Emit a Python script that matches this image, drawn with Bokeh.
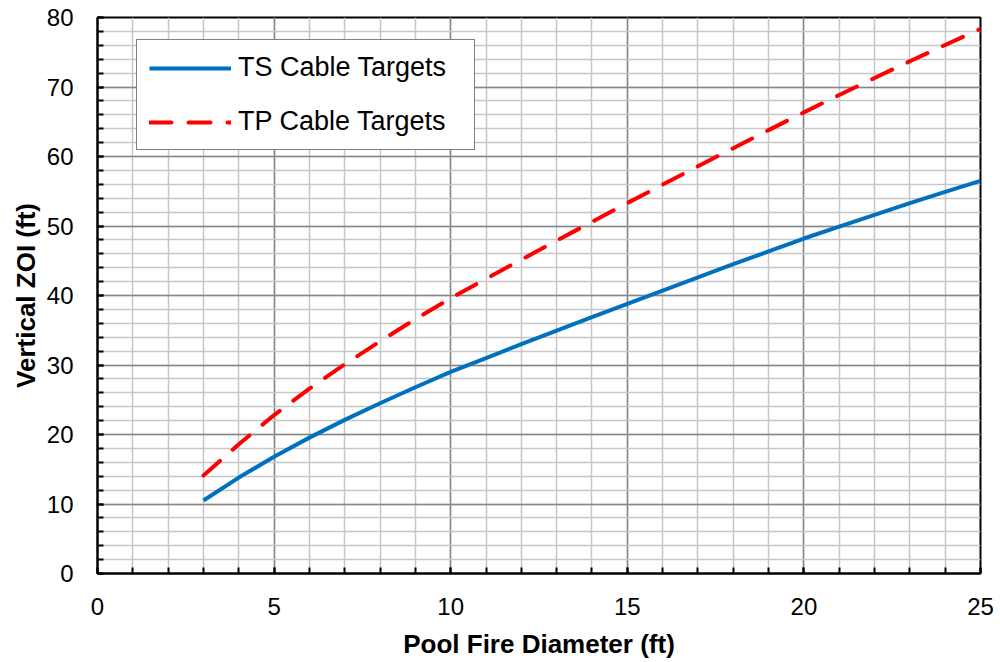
from bokeh.plotting import figure
from bokeh.models import FixedTicker, Range1d, Legend, LegendItem
from bokeh.embed import file_html
from bokeh.resources import INLINE

# Vertical zone of influence versus pool fire diameter
diameter_ft = [3, 4, 5, 6, 7, 8, 9, 10, 11, 12, 13, 14, 15, 16, 17, 18, 19, 20, 21, 22, 23, 24, 25]
ts_zoi_ft = [10.5, 13.8, 16.8, 19.55, 22.1, 24.5, 26.8, 29.0, 31.0, 33.0, 34.95, 36.9, 38.8,
             40.7, 42.6, 44.5, 46.35, 48.2, 49.9, 51.6, 53.3, 54.9, 56.5]
tp_zoi_ft = [14.1, 18.6, 22.8, 26.6, 30.1, 33.4, 36.6, 39.6, 42.4, 45.15, 47.9, 50.6, 53.3,
             55.95, 58.6, 61.2, 63.8, 66.35, 68.85, 71.3, 73.7, 76.05, 78.35]

x_major_ticks = [0, 5, 10, 15, 20, 25]
x_minor_ticks = list(range(0, 26, 1))
y_major_ticks = [0, 10, 20, 30, 40, 50, 60, 70, 80]
y_minor_ticks = list(range(0, 81, 2))

FONT = "Liberation Sans"

p = figure(width=1000, height=662, output_backend="svg", toolbar_location=None,
           x_range=Range1d(0, 25), y_range=Range1d(0, 80),
           min_border_left=97, min_border_right=20, min_border_top=17, min_border_bottom=89,
           background_fill_color="white", border_fill_color="white")

p.outline_line_color = "black"
p.outline_line_width = 2

# Axes: ticks point into the plot area at every grid step
for ax, major, minor in ((p.xaxis[0], x_major_ticks, x_minor_ticks),
                         (p.yaxis[0], y_major_ticks, y_minor_ticks)):
    ax.ticker = FixedTicker(ticks=major, minor_ticks=minor)
    ax.axis_line_color = "black"
    ax.axis_line_width = 2
    ax.major_tick_line_color = "black"
    ax.major_tick_line_width = 2
    ax.minor_tick_line_color = "black"
    ax.minor_tick_line_width = 2
    ax.major_tick_in = 6
    ax.major_tick_out = 0
    ax.minor_tick_in = 6
    ax.minor_tick_out = 0
    ax.major_label_text_font = FONT
    ax.major_label_text_font_size = "24px"
    ax.major_label_text_color = "black"
    ax.axis_label_text_font = FONT
    ax.axis_label_text_font_size = "26px"
    ax.axis_label_text_font_style = "bold"
    ax.axis_label_text_color = "black"

p.xaxis.axis_label = "Pool Fire Diameter (ft)"
p.yaxis.axis_label = "Vertical ZOI (ft)"
p.xaxis.major_label_standoff = 24
p.xaxis.axis_label_standoff = 11
p.yaxis.major_label_standoff = 24
p.yaxis.axis_label_standoff = 3

# Grid: light minor lines, darker major lines
for grid, major, minor in ((p.xgrid[0], x_major_ticks, x_minor_ticks),
                           (p.ygrid[0], y_major_ticks, y_minor_ticks)):
    grid.ticker = FixedTicker(ticks=major, minor_ticks=minor)
    grid.grid_line_color = "#868686"
    grid.grid_line_width = 1.5
    grid.minor_grid_line_color = "#C6C6C6"
    grid.minor_grid_line_width = 1.5

ts = p.line(diameter_ft, ts_zoi_ft, line_color="#0070C0", line_width=4)
tp = p.line(diameter_ft, tp_zoi_ft, line_color="#FF0000", line_width=4,
            line_dash="22 17", line_cap="round")

legend = Legend(
    items=[LegendItem(label="TS Cable Targets", renderers=[ts]),
           LegendItem(label="TP Cable Targets", renderers=[tp])],
    location=(39, 423),
    label_text_font=FONT, label_text_font_size="27px", label_text_color="black",
    padding=12, spacing=23, margin=0,
    glyph_width=82, glyph_height=26, label_height=26, label_standoff=7, label_width=224,
    border_line_color="black", border_line_width=1.5,
    background_fill_color="white", background_fill_alpha=1.0,
)
p.add_layout(legend)

open("out.html", "w").write(file_html(p, INLINE))
